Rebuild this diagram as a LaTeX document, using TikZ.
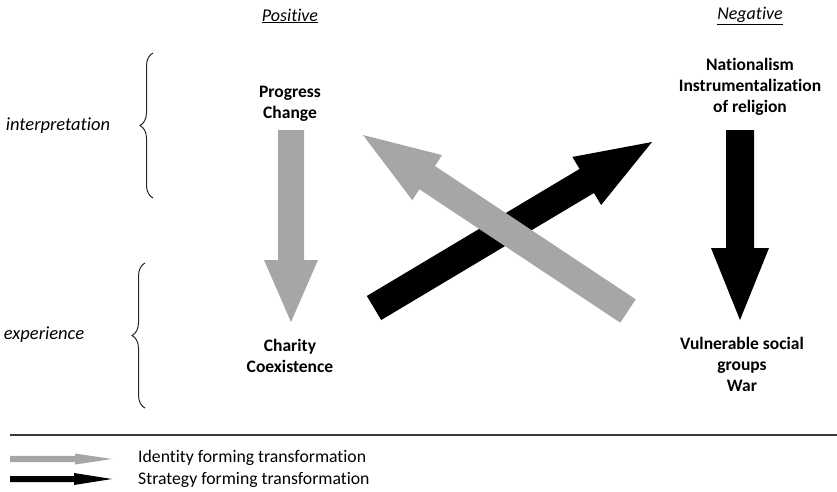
\documentclass[tikz,border=0pt]{standalone}
\usepackage{fontspec}
\setmainfont[Ligatures=NoCommon]{Carlito}
\usetikzlibrary{calc,decorations.pathreplacing}
\definecolor{arrgray}{HTML}{A6A6A6}
\definecolor{rulegray}{HTML}{3A3A3A}
\newcommand{\blockarrow}[6]{%
  \coordinate (H) at ($(#2)!#5!(#1)$);
  \fill[#6] ($(#1)!#3!90:(#2)$) -- ($(H)!#3!90:(#2)$) -- ($(H)!#4!90:(#2)$) -- (#2)
    -- ($(H)!#4!-90:(#2)$) -- ($(H)!#3!-90:(#2)$) -- ($(#1)!#3!-90:(#2)$) -- cycle;
}
\begin{document}
\begin{tikzpicture}[x=1pt,y=-1pt,
  every node/.style={font=\fontsize{17.7}{21}\selectfont, inner sep=0pt, text=black},
  concept/.style={align=center, font=\fontsize{17.5}{21}\selectfont\bfseries},
  level/.style={font=\fontsize{18.5}{21}\selectfont\itshape},
  head/.style={font=\fontsize{18}{21}\selectfont\itshape},
  bracestyle/.style={decorate, decoration={brace, amplitude=13pt}, line width=1pt, black!85},
  legendtext/.style={anchor=west}]
\useasboundingbox (0,0) rectangle (837,491);

% column headers
\node[head] (pos) at (290,16) {\underline{Positive}};
\node[head] (neg) at (750,16) {\underline{Negative}};

% row labels
\node[level] (interp) at (58,126) {interpretation};
\node[level] (exper) at (44,335) {experience};
\draw[bracestyle] (153,198) -- (153,53);
\draw[bracestyle] (145,408) -- (145,263);

% concept nodes
\node[concept] (pc) at (290,104) {Progress\\Change};
\node[concept] (cc) at (290,356) {Charity\\Coexistence};
\node[concept] (ni) at (750,87) {Nationalism\\Instrumentalization\\of religion};
\node[concept] (vw) at (742,364) {Vulnerable social\\groups\\War};

% arrow end points
\coordinate (gdTail) at (291,130);
\coordinate (gdTip) at (291,322);
\coordinate (bdTail) at (740,130);
\coordinate (bdTip) at (740,320);
\coordinate (bxTail) at (374,308);
\coordinate (bxTip) at (652,142);
\coordinate (gxTail) at (628,311);
\coordinate (gxTip) at (363,135);

\blockarrow{gdTail}{gdTip}{13pt}{27pt}{62pt}{arrgray}
\blockarrow{bdTail}{bdTip}{14pt}{29pt}{72pt}{black}
\blockarrow{bxTail}{bxTip}{14pt}{28pt}{76pt}{black}
\blockarrow{gxTail}{gxTip}{14pt}{27pt}{77pt}{arrgray}

% separator
\coordinate (ruleL) at (10,435);
\coordinate (ruleR) at (837,435);
\draw[line width=1.5pt, rulegray] (ruleL) -- (ruleR);

% legend
\coordinate (lgTail) at (10,459);
\coordinate (lgTip) at (112,459);
\coordinate (lbTail) at (10,479);
\coordinate (lbTip) at (112,479);
\blockarrow{lgTail}{lgTip}{3.2pt}{5.5pt}{37pt}{arrgray}
\blockarrow{lbTail}{lbTip}{3pt}{6pt}{38pt}{black}
\node[legendtext] (lg) at (138,458) {Identity forming transformation};
\node[legendtext] (lb) at (138,480) {Strategy forming transformation};
\end{tikzpicture}
\end{document}
